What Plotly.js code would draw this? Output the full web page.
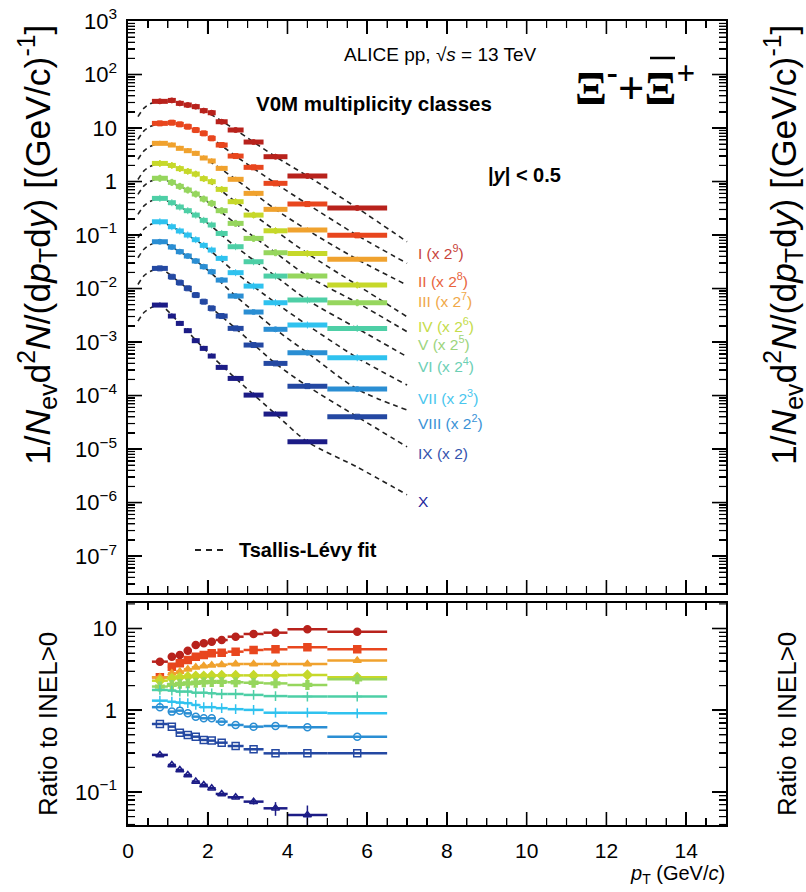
<!DOCTYPE html>
<html><head><meta charset="utf-8">
<script src="https://cdn.plot.ly/plotly-3.0.1.min.js"></script>
<style>html,body{margin:0;padding:0;background:#fff}#chart{width:806px;height:892px}</style>
</head><body><div id="chart"></div>
<script>
// ---------------- data ----------------
const ptLow  = [0.6,1.0,1.2,1.4,1.6,1.8,2.0,2.2,2.5,2.9,3.4,4.0,5.0];
const ptHigh = [1.0,1.2,1.4,1.6,1.8,2.0,2.2,2.5,2.9,3.4,4.0,5.0,6.5];

const classNames = ['I','II','III','IV','V','VI','VII','VIII','IX','X'];
const classLabels = ['I (x 2<sup>9</sup>)','II (x 2<sup>8</sup>)','III (x 2<sup>7</sup>)','IV (x 2<sup>6</sup>)',
  'V (x 2<sup>5</sup>)','VI (x 2<sup>4</sup>)','VII (x 2<sup>3</sup>)','VIII (x 2<sup>2</sup>)','IX (x 2)','X'];

// scaled spectra 1/Nev d2N/(dpT dy)
const specI    = [31.5, 32.8, 28.9, 26.9, 25.1, 21.1, 19.3, 13.1, 9.18, 5.47, 2.91, 1.27, 0.320];
const specII   = [12.2, 12.6, 11.7, 10.6, 9.16, 7.94, 6.41, 4.81, 2.99, 1.84, 0.925, 0.379, 0.0986];
const specIII  = [5.17, 4.81, 4.17, 3.77, 3.36, 2.75, 2.42, 1.76, 1.10, 0.601, 0.302, 0.124, 0.0351];
const specIV   = [2.18, 2.00, 1.74, 1.55, 1.38, 1.13, 0.993, 0.713, 0.420, 0.236, 0.120, 0.0454, 0.0116];
const specV    = [1.15, 0.964, 0.812, 0.693, 0.583, 0.471, 0.391, 0.285, 0.165, 0.0865, 0.0467, 0.0171, 0.00543];
const specVI   = [0.484, 0.402, 0.334, 0.285, 0.236, 0.188, 0.154, 0.107, 0.0605, 0.0317, 0.0171, 0.00610, 0.00180];
const specVII  = [0.177, 0.143, 0.119, 0.100, 0.0818, 0.0641, 0.0524, 0.0366, 0.0198, 0.0111, 0.00543, 0.00208, 0.000509];
const specVIII = [0.0750, 0.0597, 0.0488, 0.0405, 0.0327, 0.0256, 0.0206, 0.0144, 0.00724, 0.00364, 0.00173, 0.000631, 0.000132];
const specIX   = [0.0238, 0.0166, 0.0129, 0.0101, 0.00755, 0.00568, 0.00426, 0.00306, 0.00180, 0.000879, 0.000399, 0.000150, 0.0000402];
const specX    = [0.00491, 0.00306, 0.00223, 0.00163, 0.00106, 0.000761, 0.000547, 0.000336, 0.000209, 0.000102, 0.0000451, 0.0000137];

// Tsallis-Levy fit curves
const fitPt    = [0.25, 0.4, 0.55, 0.8, 1.3, 1.9, 2.7, 3.7, 4.5, 5.75, 7.0];
const fitI     = [16.3, 23.5, 28.2, 32.4, 28.9, 21.1, 9.18, 2.91, 1.27, 0.320, 0.0750];
const fitII    = [6.12, 8.85, 10.6, 12.2, 11.7, 7.94, 2.99, 0.925, 0.379, 0.0986, 0.0296];
const fitIII   = [2.59, 3.74, 4.50, 5.16, 4.17, 2.75, 1.10, 0.302, 0.124, 0.0351, 0.0116];
const fitIV    = [1.09, 1.58, 1.90, 2.18, 1.74, 1.13, 0.420, 0.120, 0.0454, 0.0116, 0.00297];
const fitV     = [0.574, 0.830, 0.998, 1.15, 0.812, 0.471, 0.165, 0.0467, 0.0171, 0.00543, 0.00156];
const fitVI    = [0.243, 0.351, 0.422, 0.484, 0.334, 0.188, 0.0605, 0.0171, 0.00610, 0.00180, 0.000531];
const fitVII   = [0.0889, 0.129, 0.155, 0.177, 0.119, 0.0641, 0.0198, 0.00543, 0.00208, 0.000509, 0.000157];
const fitVIII  = [0.0376, 0.0543, 0.0653, 0.0750, 0.0488, 0.0256, 0.00724, 0.00173, 0.000631, 0.000132, 0.0000536];
const fitIX    = [0.0119, 0.0173, 0.0207, 0.0238, 0.0129, 0.00568, 0.00180, 0.000399, 0.000150, 0.0000402, 0.0000110];
const fitX     = [0.00246, 0.00356, 0.00428, 0.00491, 0.00223, 0.000761, 0.000209, 0.0000451, 0.0000137, 0.0000046, 0.0000014];

// ratio to INEL>0
const ratioI    = [3.93, 4.52, 4.74, 5.35, 6.28, 6.59, 6.90, 7.23, 7.94, 8.57, 8.89, 9.77, 9.15];
const ratioII   = [2.53, 3.41, 3.75, 4.12, 4.52, 4.74, 4.97, 5.06, 5.21, 5.46, 5.56, 5.89, 5.56];
const ratioIII  = [2.53, 2.83, 2.97, 3.17, 3.35, 3.48, 3.55, 3.61, 3.68, 3.68, 3.68, 3.68, 4.05];
const ratioIV   = [2.30, 2.46, 2.53, 2.58, 2.62, 2.62, 2.65, 2.67, 2.67, 2.67, 2.67, 2.70, 2.53];
const ratioV    = [1.95, 2.04, 2.10, 2.13, 2.17, 2.20, 2.22, 2.22, 2.20, 2.17, 2.13, 2.04, 2.39];
const ratioVI   = [1.77, 1.74, 1.69, 1.69, 1.64, 1.64, 1.61, 1.58, 1.58, 1.54, 1.49, 1.47, 1.47];
const ratioVII  = [1.31, 1.27, 1.24, 1.22, 1.16, 1.09, 1.09, 1.06, 1.03, 1.01, 0.933, 0.933, 0.916];
const ratioVIII = [1.09, 0.962, 0.989, 0.916, 0.835, 0.797, 0.797, 0.725, 0.660, 0.630, 0.641, 0.618, 0.475];
const ratioIX   = [0.679, 0.630, 0.532, 0.498, 0.475, 0.433, 0.425, 0.401, 0.365, 0.333, 0.297, 0.297, 0.297];
const ratioX    = [0.284, 0.214, 0.186, 0.161, 0.134, 0.122, 0.111, 0.0946, 0.0861, 0.0762, 0.0631, 0.0523];
const ratioXErr = [0, 0, 0, 0, 0, 0, 0, 0.003, 0.004, 0.006, 0.012, 0.016];

const yTickVals = [1e-7,1e-6,1e-5,1e-4,1e-3,1e-2,1e-1,1,10,100,1000];
const yTickText = ['10<sup>−7</sup>','10<sup>−6</sup>','10<sup>−5</sup>','10<sup>−4</sup>','10<sup>−3</sup>',
  '10<sup>−2</sup>','10<sup>−1</sup>','1','10','10<sup>2</sup>','10<sup>3</sup>'];
const rTickVals = [0.1, 1, 10];
const rTickText = ['10<sup>−1</sup>','1','10'];

// ---------------- styles ----------------
const colors = ['#b8221c','#e8461e','#f0a22e','#c6d82a','#96d65e','#4ecfa6','#2fc2ef','#2a8ed3','#2448a2','#1c1c86'];
const labelColors = ['#c8443a','#e8643c','#f0a848','#c4dc4a','#9cd47c','#6ccfb4','#48c6ee','#3a92d6','#3454ae','#24249c'];
const symbols = ['circle','square','triangle-up','diamond','cross','cross-thin-open','cross-thin-open','circle-open','square-open','triangle-up-open'];
const specs = [specI,specII,specIII,specIV,specV,specVI,specVII,specVIII,specIX,specX];
const fits = [fitI,fitII,fitIII,fitIV,fitV,fitVI,fitVII,fitVIII,fitIX,fitX];
const ratios = [ratioI,ratioII,ratioIII,ratioIV,ratioV,ratioVI,ratioVII,ratioVIII,ratioIX,ratioX];

const F = 'Liberation Sans, Arial, Helvetica, sans-serif';
const centers = ptLow.map((l,i)=>(l+ptHigh[i])/2);
const halfW = ptLow.map((l,i)=>(ptHigh[i]-l)/2);

const traces = [];
for (let k=0;k<10;k++){
  traces.push({x:fitPt, y:fits[k], xaxis:'x', yaxis:'y', mode:'lines', type:'scatter',
    line:{color:'#222', width:1.6, dash:'5px,4px', shape:'spline', smoothing:0.8}, hoverinfo:'skip', showlegend:false});
}
for (let k=0;k<10;k++){
  const n = specs[k].length;
  traces.push({x:centers.slice(0,n), y:specs[k], xaxis:'x', yaxis:'y', mode:'markers', type:'scatter',
    marker:{symbol:symbols[k], size:5, color:colors[k], line:{color:colors[k], width:1}},
    error_x:{type:'data', array:halfW.slice(0,n), visible:true, thickness:5, width:0, color:colors[k]},
    name:classNames[k], showlegend:false});
}
for (let k=0;k<10;k++){
  const n = ratios[k].length;
  const t = {x:centers.slice(0,n), y:ratios[k], xaxis:'x2', yaxis:'y2', mode:'markers', type:'scatter',
    marker:{symbol:symbols[k], size:7, color:colors[k], line:{color:colors[k], width:1.5}},
    error_x:{type:'data', array:halfW.slice(0,n), visible:true, thickness:2.5, width:0, color:colors[k]},
    name:classNames[k], showlegend:false};
  if (k===9) t.error_y = {type:'data', array:ratioXErr, visible:true, thickness:1.5, width:0, color:colors[k]};
  traces.push(t);
}

// pixel -> paper helpers
const L=128, R=726, T=21, B=825;
const TOP_B = 593, BOT_T = 603;
const topRange = [-7.69, 3], botRange = [-1.404, 1.312];
function px(x){return (x-L)/(R-L);}
function py(y){return (B-y)/(B-T);}
function ann(text,x,y,o){
  return Object.assign({text:text, x:px(x), y:py(y), xref:'paper', yref:'paper', showarrow:false,
    xanchor:'center', yanchor:'middle', font:{family:F, size:16, color:'#000'}}, o||{});
}
const labelY = [251.7,280,300,325,343,365,396.7,421.7,453.3,501.7];
const annotations = [];
for (let k=0;k<10;k++){
  annotations.push(ann(classLabels[k], 416, labelY[k], {xanchor:'left', font:{family:F,size:15.5,color:labelColors[k]}}));
}
annotations.push(ann('ALICE pp, √<i>s</i> = 13 TeV', 440, 55, {font:{family:F,size:19,color:'#000'}}));
annotations.push(ann('<b>V0M multiplicity classes</b>', 374, 103, {font:{family:F,size:20.5,color:'#000'}}));
annotations.push(ann('<b>|<i>y</i>| &lt; 0.5</b>', 524, 175, {font:{family:F,size:20,color:'#000'}}));
annotations.push(ann('<b>Tsallis-Lévy fit</b>', 237, 550, {xanchor:'left', font:{family:F,size:20,color:'#000'}}));
annotations.push(ann('<b>Ξ<sup>-</sup>+Ξ<sup>+</sup></b>', 635, 85, {font:{family:'Liberation Serif, serif',size:47,color:'#000'}}));
const ytitle = '1/<i>N</i><sub>ev</sub>d<sup>2</sup><i>N</i>/(d<i>p</i><sub>T</sub>d<i>y</i>) [(GeV/c)<sup>-1</sup>]';
annotations.push(ann(ytitle, 38, 245, {textangle:-90, font:{family:F,size:35.5,color:'#000'}}));
annotations.push(ann(ytitle, 784, 245, {textangle:-90, font:{family:F,size:35.5,color:'#000'}}));
annotations.push(ann('Ratio to INEL&gt;0', 48, 724, {textangle:-90, font:{family:F,size:26,color:'#000'}}));
annotations.push(ann('Ratio to INEL&gt;0', 787, 724, {textangle:-90, font:{family:F,size:26,color:'#000'}}));
annotations.push(ann('<i>p</i><sub>T</sub> (GeV/<i>c</i>)', 727, 874, {xanchor:'right', font:{family:F,size:20,color:'#000'}}));

const shapes = [
  {type:'line', xref:'paper', yref:'paper', x0:px(195), x1:px(228), y0:py(550), y1:py(550),
   line:{color:'#222', width:1.8, dash:'6px,5px'}},
  {type:'line', xref:'paper', yref:'paper', x0:px(650), x1:px(675), y0:py(58), y1:py(58),
   line:{color:'#000', width:2.5}}
];

// frame tick marks (ROOT style, inside on all four sides), drawn on top
function tickLine(x0,y0,x1,y1,w){
  shapes.push({type:'line', xref:'paper', yref:'paper', x0:px(x0), y0:py(y0), x1:px(x1), y1:py(y1),
    line:{color:'#000', width:w}, layer:'above'});
}
function xTicks(yTop, yBot){
  for (let i=1;i<30;i++){
    const v = i*0.5, xx = L + v/15*(R-L);
    const major = (i % 4 === 0), len = major?13:7, w = major?1.6:1.2;
    tickLine(xx, yBot, xx, yBot-len, w);
    tickLine(xx, yTop, xx, yTop+len, w);
  }
}
function yTicks(yTop, yBot, lmin, lmax){
  for (let e=Math.floor(lmin); e<=Math.ceil(lmax); e++){
    for (let m=1;m<=9;m++){
      const l = e + Math.log10(m);
      if (l <= lmin + 1e-6 || l >= lmax - 1e-6) continue;
      const yy = yTop + (lmax - l)/(lmax - lmin)*(yBot - yTop);
      const len = (m===1)?14:7, w = (m===1)?1.6:1.2;
      tickLine(L, yy, L+len, yy, w);
      tickLine(R, yy, R-len, yy, w);
    }
  }
}
xTicks(T, TOP_B); xTicks(BOT_T, B);
yTicks(T, TOP_B, topRange[0], topRange[1]);
yTicks(BOT_T, B, botRange[0], botRange[1]);

const axisCommon = {showline:true, linecolor:'#000', linewidth:1.6, mirror:'ticks', ticks:'inside',
  tickcolor:'#000', tickwidth:1.6, showgrid:false, zeroline:false};
const minorX = {dtick:0.5, tick0:0, ticks:'inside', ticklen:7, tickcolor:'#000', tickwidth:1.2, showgrid:false};
const minorY = {dtick:'D1', ticks:'inside', ticklen:7, tickcolor:'#000', tickwidth:1.2, showgrid:false};
const layout = {
  width:806, height:892, paper_bgcolor:'#fff', plot_bgcolor:'#fff', showlegend:false,
  margin:{l:L, r:806-R, t:T, b:892-B, pad:0},
  xaxis: Object.assign({}, axisCommon, {domain:[0,1], anchor:'y', range:[0,15], dtick:2, tick0:0, ticklen:13,
    minor:minorX, showticklabels:false}),
  yaxis: Object.assign({}, axisCommon, {domain:[(B-TOP_B)/(B-T),1], anchor:'x', type:'log', range:topRange,
    tickmode:'array', tickvals:yTickVals, ticktext:yTickText, ticklen:14, ticklabelstandoff:5,
    minor:minorY, tickfont:{family:F, size:22, color:'#000'}}),
  xaxis2: Object.assign({}, axisCommon, {domain:[0,1], anchor:'y2', range:[0,15], dtick:2, tick0:0, ticklen:13,
    minor:minorX, showticklabels:true, ticklabelstandoff:6, tickfont:{family:F, size:21, color:'#000'}}),
  yaxis2: Object.assign({}, axisCommon, {domain:[0,(B-BOT_T)/(B-T)], anchor:'x2', type:'log', range:botRange,
    tickmode:'array', tickvals:rTickVals, ticktext:rTickText, ticklen:14, ticklabelstandoff:5,
    minor:minorY, tickfont:{family:F, size:22, color:'#000'}}),
  annotations: annotations,
  shapes: shapes
};
Plotly.newPlot('chart', traces, layout, {staticPlot:true, displayModeBar:false});
</script></body></html>
